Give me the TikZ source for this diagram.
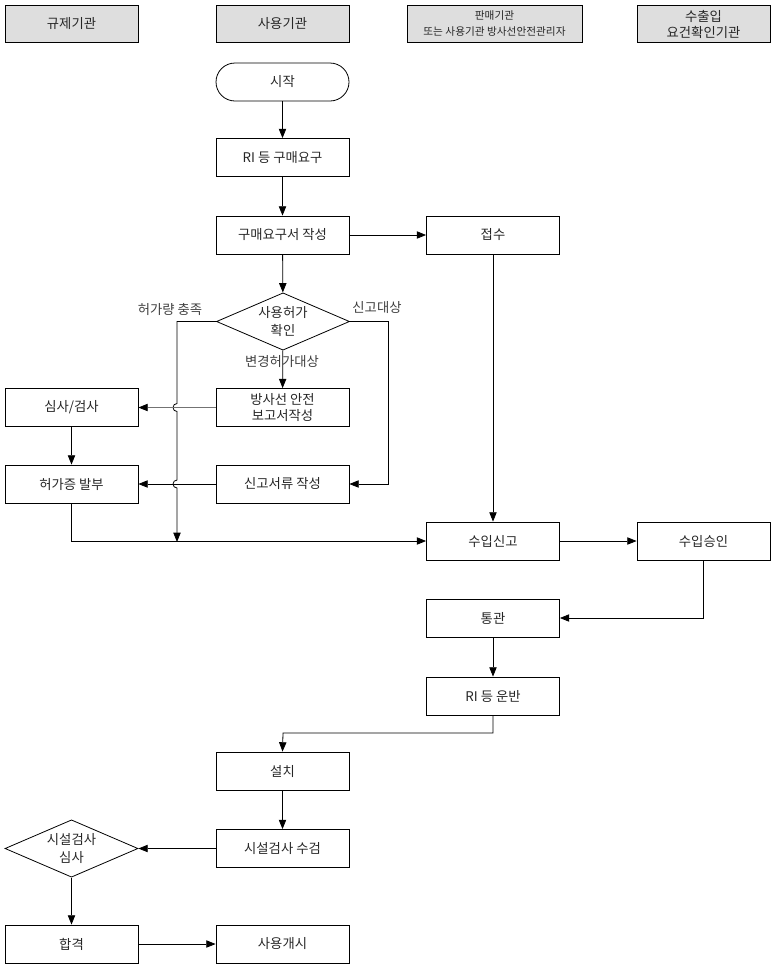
\documentclass[tikz,border=0pt]{standalone}
\usepackage{fontspec}
\setmainfont{Noto Sans CJK KR}
\usetikzlibrary{shapes.geometric, arrows.meta, calc}

\tikzset{
	procbox/.style = {draw, minimum width = 99.75pt, minimum height = 28.5pt, inner sep = 1pt, align = center},
	headbox/.style = {procbox, fill = black!13, minimum height = 28pt},
	startbox/.style = {procbox, rounded corners = 14.25pt},
	decision/.style = {draw, diamond, aspect = 2.3, minimum width = 99.75pt, minimum height = 43pt, inner sep = 0pt, align = center, font = \fontsize{10}{13.5}\selectfont},
	lbl/.style = {text = black!75}
}

\begin{document}
\begin{tikzpicture}[x = 0.75pt, y = -0.75pt, > = {Triangle[length = 7pt, width = 5.5pt]}, font = \fontsize{10}{12}\selectfont, line width = 0.6pt, text = black!85]

	\useasboundingbox (0, 0) rectangle (775, 968);

	% Column headers
	
	\node [headbox] (hreg) at (71.5, 24) {규제기관};
	\node [headbox] (huse) at (282.5, 24) {사용기관};
	\node [headbox, minimum width = 131.25pt, font = \fontsize{8}{12}\selectfont] (hsel) at (494.5, 24) {판매기관\\또는 사용기관 방사선안전관리자};
	\node [headbox] (hchk) at (703.5, 24) {수출입\\요건확인기관};
	
	% Purchase steps
	
	\node [startbox] (start) at (282.5, 82) {시작};
	\node [procbox] (req) at (282.5, 157.5) {RI 등 구매요구};
	\node [procbox] (write) at (282.5, 235) {구매요구서 작성};
	\node [procbox] (recv) at (493, 235) {접수};
	\node [decision] (chk) at (283, 321.5) {사용허가\\확인};
	
	% Licence steps
	
	\node [procbox] (rep) at (282.5, 407.5) {방사선 안전\\보고서작성};
	\node [procbox] (audit) at (71.5, 407.5) {심사/검사};
	\node [procbox] (issue) at (71.5, 484) {허가증 발부};
	\node [procbox] (decl) at (282.5, 484) {신고서류 작성};
	
	% Import steps
	
	\node [procbox] (imp) at (493, 541) {수입신고};
	\node [procbox] (appr) at (703.5, 541) {수입승인};
	\node [procbox] (clr) at (493, 618) {통관};
	\node [procbox] (ship) at (493, 696) {RI 등 운반};
	
	% Installation steps
	
	\node [procbox] (inst) at (282.5, 771) {설치};
	\node [procbox] (insp) at (282.5, 848.5) {시설검사 수검};
	\node [decision] (rev) at (71.5, 848.5) {시설검사\\심사};
	\node [procbox] (pass) at (71.5, 944) {합격};
	\node [procbox] (use) at (282.5, 944) {사용개시};
	
	% Branch labels
	
	\node [lbl] (lfull) at (170, 309) {허가량 충족};
	\node [lbl] (lnote) at (377, 308) {신고대상};
	\node [lbl] (lchg) at (282, 362) {변경허가대상};
	
	% Turning points
	
	\coordinate (jn) at (177, 542);
	\coordinate (rt) at (388, 321.5);
	\coordinate (mid) at (283, 733);
	
	% Connectors
	
	\draw [->] (start) -- (req);
	\draw [->] (req) -- (write);
	\draw [->] (write) -- (recv);
	\draw [->] (write) -- (chk);
	\draw [->] (chk) -- (rep);
	\draw [->] (chk.east) -- (rt) -- (rt |- decl.east) -- (decl.east);
	\draw [->] (chk.west) -| ($(rep.west -| jn) + (0, -4)$)
		arc [start angle = 90, end angle = 270, radius = 3pt]
		-- ($(decl.west -| jn) + (0, -4)$)
		arc [start angle = 90, end angle = 270, radius = 3pt] -- (jn);
	\draw [-{Triangle[length = 7pt, width = 5.5pt, black]}, black!55] (rep) -- (audit);
	\draw [->] (decl) -- (issue);
	\draw [->] (audit) -- (issue);
	\draw [->] (issue.south) |- (imp.west);
	\draw [->] (recv) -- (imp);
	\draw [->] (imp) -- (appr);
	\draw [->] (appr.south) |- (clr.east);
	\draw [->] (clr) -- (ship);
	\draw [->] (ship.south) |- (mid) -- (inst.north);
	\draw [->] (inst) -- (insp);
	\draw [->] (insp) -- (rev);
	\draw [->] (rev) -- (pass);
	\draw [->] (pass) -- (use);

\end{tikzpicture}
\end{document}
